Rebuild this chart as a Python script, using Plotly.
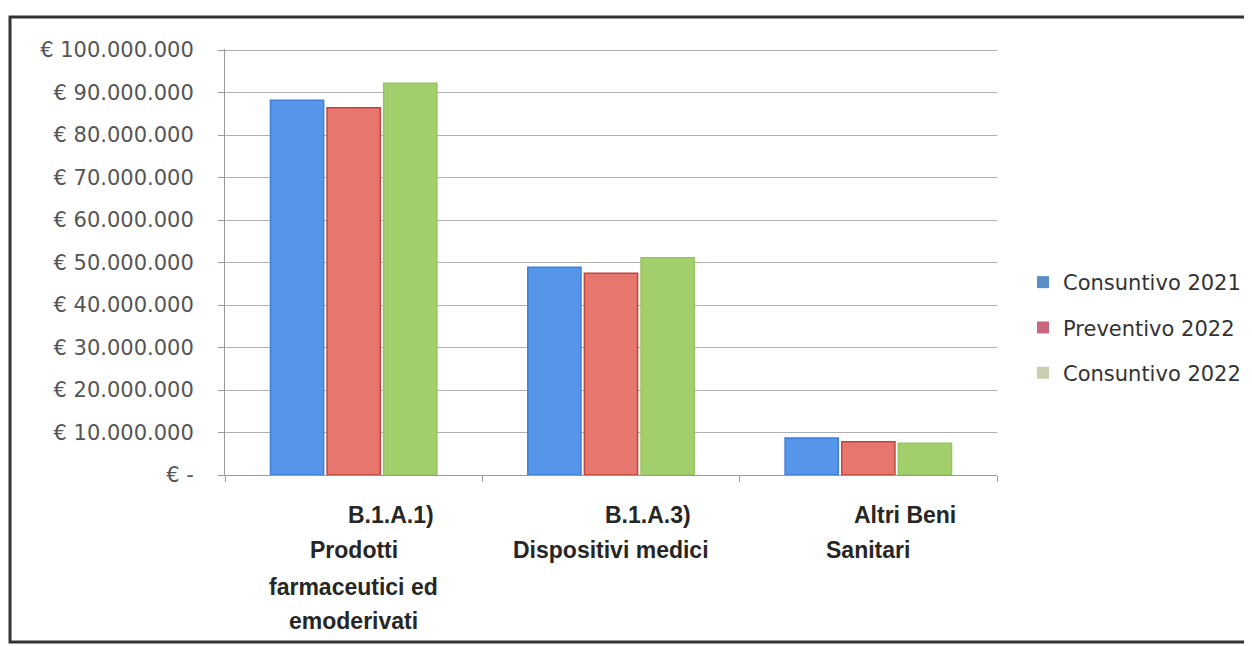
import plotly.graph_objects as go

categories = ["B.1.A.1)", "B.1.A.3)", "Altri Beni"]
label_lines = [
    ["B.1.A.1)", "Prodotti", "farmaceutici ed", "emoderivati"],
    ["B.1.A.3)", "Dispositivi medici"],
    ["Altri Beni", "Sanitari"],
]
series_names = ["Consuntivo 2021", "Preventivo 2022", "Consuntivo 2022"]
consuntivo_2021 = [88200000, 48900000, 8700000]
preventivo_2022 = [86400000, 47500000, 7800000]
consuntivo_2022 = [92200000, 51100000, 7500000]
tick_vals = [0, 10e6, 20e6, 30e6, 40e6, 50e6, 60e6, 70e6, 80e6, 90e6, 100e6]
tick_text = ["€ -", "€ 10.000.000", "€ 20.000.000", "€ 30.000.000", "€ 40.000.000",
             "€ 50.000.000", "€ 60.000.000", "€ 70.000.000", "€ 80.000.000",
             "€ 90.000.000", "€ 100.000.000"]

bar_fill = ["#5596ea", "#e6766e", "#a2cf6c"]
bar_edge = ["#3f7fd8", "#c0453f", "#95c560"]
legend_marker = ["#5b8fc9", "#c9677f", "#c9cfae"]

# page has an 8px body margin, so coordinates are offset by 8
OFF = 8
W, H = 1252 - OFF, 646 - OFF
ML, MT = 225 - OFF, 49 - OFF
PW, PH = 772, 426
MR, MB = W - ML - PW, H - MT - PH

fig = go.Figure()
for i, vals in enumerate([consuntivo_2021, preventivo_2022, consuntivo_2022]):
    fig.add_trace(go.Bar(
        x=categories, y=vals, name=series_names[i], showlegend=False,
        marker=dict(color=bar_fill[i], line=dict(color=bar_edge[i], width=1.5)),
    ))
for i in range(3):
    fig.add_trace(go.Scatter(
        x=[None], y=[None], mode="markers", name=series_names[i],
        legendgroup=series_names[i],
        marker=dict(symbol="square", size=9, color=legend_marker[i]),
    ))


def px_to_paper_x(px):
    return (px - OFF - ML) / PW


def px_to_paper_y(py):
    return (MT + PH - (py - OFF)) / PH


annotations = []
line_y = [515, 550, 587, 621]
for ci, lines in enumerate(label_lines):
    for li, txt in enumerate(lines):
        annotations.append(dict(
            x=categories[ci], xref="x", y=0, yref="paper",
            yshift=-(line_y[li] - 475), yanchor="middle",
            xshift=37 if li == 0 else 0,
            text="<b>" + txt + "</b>", showarrow=False,
            font=dict(family="Liberation Sans", size=23, color="#262626"),
        ))

fig.update_layout(
    width=W, height=H,
    margin=dict(l=ML, r=MR, t=MT, b=MB, autoexpand=False),
    paper_bgcolor="white", plot_bgcolor="white",
    barmode="group", bargap=0.34, bargroupgap=0.06,
    font=dict(family="DejaVu Sans", color="#555555"),
    legend=dict(
        x=px_to_paper_x(1031), xanchor="left", xref="paper",
        y=px_to_paper_y(262), yanchor="top",
        font=dict(family="DejaVu Sans", size=21, color="#333333"),
        tracegroupgap=15, itemsizing="constant", bgcolor="rgba(0,0,0,0)",
        indentation=-8,
    ),
    xaxis=dict(
        showticklabels=False, showline=True, linecolor="#9a9a9a", linewidth=1,
        ticks="outside", tickson="boundaries", ticklen=6, tickcolor="#9a9a9a",
        showgrid=False,
    ),
    yaxis=dict(
        range=[0, 100.25e6], tickvals=tick_vals, ticktext=tick_text,
        tickfont=dict(family="DejaVu Sans", size=21, color="#555555"),
        showline=True, linecolor="#9a9a9a", linewidth=1,
        ticks="outside", ticklen=6, tickcolor="#9a9a9a",
        ticklabelstandoff=20,
        showgrid=True, gridcolor="#b0b0b0", gridwidth=1, zeroline=False,
    ),
    annotations=annotations,
    shapes=[dict(
        type="rect", xref="paper", yref="paper",
        x0=px_to_paper_x(10), x1=px_to_paper_x(1275),
        y0=px_to_paper_y(642), y1=px_to_paper_y(17),
        line=dict(color="#333333", width=3), layer="below",
    )],
)

fig.write_html("out.html")
